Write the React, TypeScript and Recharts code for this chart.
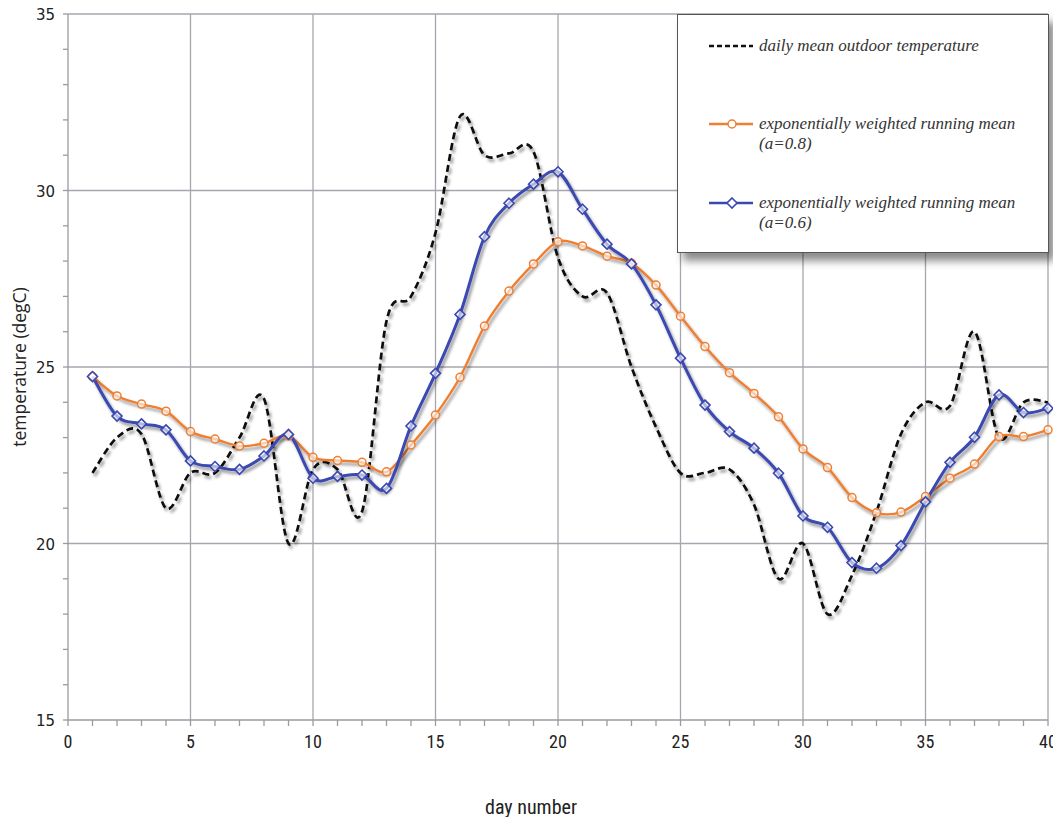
import React from "react";
import { LineChart, Line, XAxis, YAxis, CartesianGrid, Legend } from "recharts";

const days = [1,2,3,4,5,6,7,8,9,10,11,12,13,14,15,16,17,18,19,20,21,22,23,24,25,26,27,28,29,30,31,32,33,34,35,36,37,38,39,40];
const dailyMean = [22.0,23.0,23.1,21.0,22.0,22.0,23.0,24.1,20.0,22.1,22.1,20.9,26.3,27.0,28.8,32.1,31.0,31.05,31.1,28.1,27.0,27.1,25.0,23.3,22.0,22.0,22.1,21.1,19.0,20.0,18.0,19.1,20.9,23.1,24.0,23.9,26.0,23.0,24.0,24.0];
const ewrm08 = [24.73,24.18,23.95,23.75,23.17,22.96,22.76,22.84,23.05,22.44,22.35,22.3,22.03,22.79,23.64,24.71,26.16,27.15,27.92,28.55,28.43,28.14,27.94,27.32,26.44,25.58,24.84,24.25,23.59,22.68,22.15,21.3,20.87,20.89,21.33,21.85,22.25,23.03,23.03,23.22];
const ewrm06 = [24.73,23.61,23.39,23.22,22.34,22.18,22.1,22.48,23.09,21.85,21.9,21.94,21.56,23.33,24.82,26.49,28.69,29.64,30.18,30.53,29.47,28.48,27.92,26.76,25.25,23.92,23.17,22.7,21.99,20.78,20.46,19.46,19.3,19.94,21.18,22.3,23.01,24.21,23.71,23.83];

const xTicks = Array.from({ length: 41 }, (_, i) => i);
const yTicks = Array.from({ length: 21 }, (_, i) => 15 + i);
const xGrid = [5, 10, 15, 20, 25, 30, 35, 40];
const yGrid = [20, 25, 30, 35];

const legendLabels = [
  ["daily mean outdoor temperature"],
  ["exponentially weighted running mean", "(a=0.8)"],
  ["exponentially weighted running mean", "(a=0.6)"],
];

const data = days.map((d, i) => ({
  day: d,
  t: dailyMean[i],
  a08: ewrm08[i],
  a06: ewrm06[i],
}));

const ORANGE = "#EE7F33";
const BLUE = "#3A48B0";

// Catmull-Rom style smoothing (similar to Excel's smoothed line)
function smoothCurve(context: any) {
  let pts: number[][] = [];
  return {
    areaStart() {},
    areaEnd() {},
    lineStart() {
      pts = [];
    },
    lineEnd() {
      const n = pts.length;
      if (!n) return;
      context.moveTo(pts[0][0], pts[0][1]);
      for (let i = 0; i < n - 1; i++) {
        const p0 = pts[i - 1] || pts[i];
        const p1 = pts[i];
        const p2 = pts[i + 1];
        const p3 = pts[i + 2] || p2;
        context.bezierCurveTo(
          p1[0] + (p2[0] - p0[0]) / 6,
          p1[1] + (p2[1] - p0[1]) / 6,
          p2[0] - (p3[0] - p1[0]) / 6,
          p2[1] - (p3[1] - p1[1]) / 6,
          p2[0],
          p2[1]
        );
      }
    },
    point(x: number, y: number) {
      pts.push([+x, +y]);
    },
  };
}

const CircleDot = (props: any) => {
  const { cx, cy, index } = props;
  if (cx == null || cy == null) return null;
  return <circle key={"c" + index} cx={cx} cy={cy} r={4} fill="#fff" fillOpacity={0.6} stroke={ORANGE} strokeWidth={1.5} />;
};

const DiamondDot = (props: any) => {
  const { cx, cy, index } = props;
  if (cx == null || cy == null) return null;
  const s = 5;
  return (
    <path
      key={"d" + index}
      d={`M${cx},${cy - s}L${cx + s},${cy}L${cx},${cy + s}L${cx - s},${cy}Z`}
      fill="#fff"
      fillOpacity={0.6}
      stroke={BLUE}
      strokeWidth={1.6}
    />
  );
};

const XTick = (props: any) => {
  const { x, y, payload } = props;
  if (payload.value % 5 !== 0) return null;
  return (
    <text x={x} y={y + 20} textAnchor="middle" fontFamily="'Liberation Sans Narrow', 'Roboto Condensed', Roboto, sans-serif" fontSize={18} fill="#222">
      {payload.value}
    </text>
  );
};

const YTick = (props: any) => {
  const { x, y, payload } = props;
  if (payload.value % 5 !== 0) return null;
  return (
    <text x={x - 6} y={y + 6} textAnchor="end" fontFamily="'DejaVu Sans', Verdana, sans-serif" fontSize={15} fill="#222">
      {payload.value}
    </text>
  );
};

const LegendContent = () => {
  const textStyle: React.CSSProperties = {
    fontFamily: "'Liberation Serif', 'DejaVu Serif', serif",
    fontStyle: "italic",
    fontSize: 17,
    color: "#333",
    lineHeight: "20px",
    whiteSpace: "nowrap",
  };
  const row = (top: number, sample: React.ReactNode, lines: string[]) => (
    <div style={{ position: "absolute", left: 0, top, width: "100%" }}>
      <svg width={80} height={20} style={{ position: "absolute", left: 0, top: 0 }}>
        {sample}
      </svg>
      <div style={{ position: "absolute", left: 81, top: 0, ...textStyle }}>
        {lines.map((l, i) => (
          <div key={i}>{l}</div>
        ))}
      </div>
    </div>
  );
  return (
    <div
      style={{
        position: "relative",
        width: 372,
        height: 239,
        border: "1.5px solid #555",
        background: "#fff",
        boxShadow: "6px 8px 8px rgba(0,0,0,0.45)",
        boxSizing: "border-box",
      }}
    >
      {row(
        21,
        <line x1={31} y1={10} x2={75} y2={10} stroke="#111" strokeWidth={2.5} strokeDasharray="5 3" />,
        legendLabels[0]
      )}
      {row(
        99,
        <g>
          <line x1={31} y1={10} x2={75} y2={10} stroke={ORANGE} strokeWidth={2.5} />
          <circle cx={54} cy={10} r={4} fill="#fff" stroke={ORANGE} strokeWidth={1.5} />
        </g>,
        legendLabels[1]
      )}
      {row(
        178,
        <g>
          <line x1={31} y1={10} x2={75} y2={10} stroke={BLUE} strokeWidth={2.5} />
          <path d="M54,5L59,10L54,15L49,10Z" fill="#fff" stroke={BLUE} strokeWidth={1.6} />
        </g>,
        legendLabels[2]
      )}
    </div>
  );
};

export default function App() {
  return (
    <div>
      <style>{`.recharts-surface{overflow:visible}`}</style>
      <LineChart
        width={1053}
        height={809}
        data={data}
        margin={{ top: 6, right: 13, left: 0, bottom: 0 }}
      >
        <defs>
          <filter id="shadow" x="-10%" y="-10%" width="120%" height="130%">
            <feDropShadow dx="2" dy="3" stdDeviation="1.7" floodColor="#000" floodOpacity="0.42" />
          </filter>
        </defs>
        <CartesianGrid
          stroke="#A6A6AE"
          strokeWidth={1.3}
          horizontalValues={yGrid}
          verticalValues={xGrid}
        />
        <XAxis
          dataKey="day"
          type="number"
          domain={[0, 40]}
          ticks={xTicks}
          interval={0}
          height={97}
          stroke="#9A9AA2"
          strokeWidth={1.3}
          tickSize={6}
          tickLine={{ stroke: "#9A9AA2" }}
          tick={<XTick />}
          label={{
            value: "day number",
            position: "insideBottom",
            offset: 3,
            dx: -27,
            style: { fontFamily: "'Liberation Sans Narrow', 'Roboto Condensed', Roboto, sans-serif", fontSize: 20, fill: "#222" },
          }}
        />
        <YAxis
          type="number"
          domain={[15, 35]}
          ticks={yTicks}
          interval={0}
          width={60}
          stroke="#9A9AA2"
          strokeWidth={1.3}
          tickSize={5}
          tickLine={{ stroke: "#9A9AA2" }}
          tick={<YTick />}
          label={{
            value: "temperature (degC)",
            angle: -90,
            position: "insideLeft",
            offset: 12,
            style: { textAnchor: "middle", fontFamily: "'Open Sans', 'Liberation Sans', sans-serif", fontSize: 17.5, fill: "#222" },
          }}
        />
        <Legend
          layout="horizontal"
          verticalAlign="middle"
          align="center"
          content={<LegendContent />}
          wrapperStyle={{ left: 669, top: 6, width: 372, height: 239 }}
        />
        <Line
          dataKey="t"
          type={smoothCurve as any}
          stroke="#111"
          strokeWidth={2.7}
          strokeDasharray="7 4"
          dot={false}
          activeDot={false}
          isAnimationActive={false}
          style={{ filter: "url(#shadow)" }}
        />
        <Line
          dataKey="a08"
          type={smoothCurve as any}
          stroke={ORANGE}
          strokeWidth={2.4}
          dot={<CircleDot />}
          activeDot={false}
          isAnimationActive={false}
          style={{ filter: "url(#shadow)" }}
        />
        <Line
          dataKey="a06"
          type={smoothCurve as any}
          stroke={BLUE}
          strokeWidth={3}
          dot={<DiamondDot />}
          activeDot={false}
          isAnimationActive={false}
          style={{ filter: "url(#shadow)" }}
        />
      </LineChart>
    </div>
  );
}
